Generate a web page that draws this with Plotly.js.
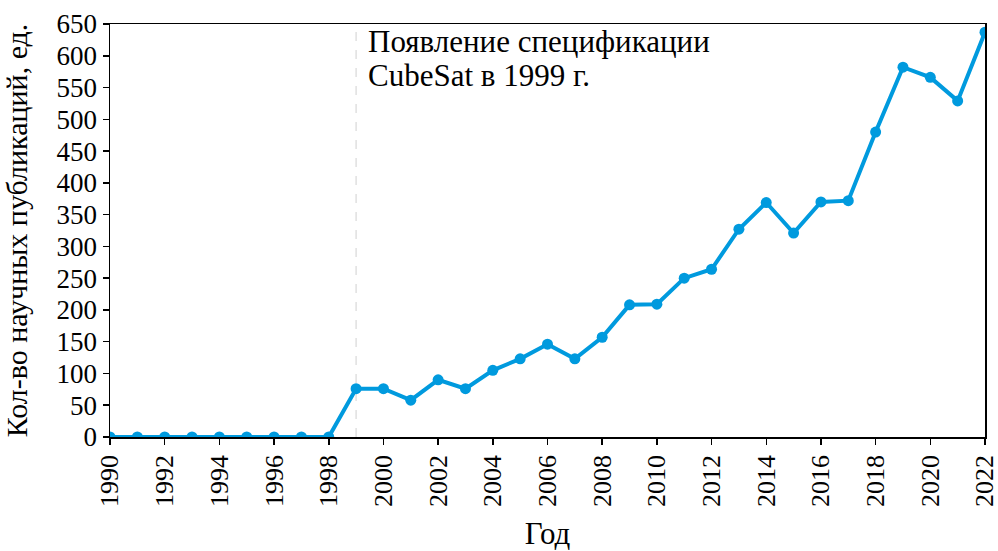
<!DOCTYPE html>
<html>
<head>
<meta charset="utf-8">
<script src="https://cdn.plot.ly/plotly-3.0.1.min.js"></script>
<style>html,body{margin:0;padding:0;background:#fff;}#chart{width:998px;height:551px;}</style>
</head>
<body>
<div id="chart"></div>
<script>
const years = [1990,1991,1992,1993,1994,1995,1996,1997,1998,1999,2000,2001,2002,2003,2004,2005,2006,2007,2008,2009,2010,2011,2012,2013,2014,2015,2016,2017,2018,2019,2020,2021,2022];
const publications = [0,0,0,0,0,0,0,0,0,76,76,58,90,76,105,123,146,123,157,208,209,250,264,327,369,321,370,372,480,582,566,529,637];
const xTicks = [1990,1992,1994,1996,1998,2000,2002,2004,2006,2008,2010,2012,2014,2016,2018,2020,2022];
const yTicks = [0,50,100,150,200,250,300,350,400,450,500,550,600,650];
const markerYear = 1999;
const annotationLines = ['Появление спецификации', 'CubeSat в 1999 г.'];
const xTitle = 'Год';
const yTitle = 'Кол-во научных публикаций, ед.';

const font = 'Liberation Serif, Times New Roman, serif';
const trace = {
  x: years, y: publications, type: 'scatter', mode: 'lines+markers',
  line: {color: '#009ade', width: 4},
  marker: {color: '#009ade', size: 11},
  cliponaxis: true
};
const layout = {
  width: 998, height: 551,
  margin: {l: 110, r: 13, t: 24, b: 114},
  paper_bgcolor: '#fff', plot_bgcolor: '#fff',
  font: {family: font, size: 27, color: '#000'},
  showlegend: false,
  xaxis: {
    range: [1990, 2022], tickvals: xTicks, ticktext: xTicks.map(String),
    tickangle: -90, ticks: 'outside', ticklen: 6, tickwidth: 1.5, tickcolor: '#000',
    showline: true, linecolor: '#000', linewidth: 1.5, mirror: true,
    showgrid: false, zeroline: false, ticklabeloverflow: 'allow',
    title: {text: xTitle, font: {family: font, size: 31}, standoff: 21},
    tickfont: {family: font, size: 26}
  },
  yaxis: {
    range: [0, 650], tickvals: yTicks, ticktext: yTicks.map(String),
    ticks: 'outside', ticklen: 6, tickwidth: 1.5, tickcolor: '#000',
    showline: true, linecolor: '#000', linewidth: 1.5, mirror: true,
    showgrid: false, zeroline: false, ticklabeloverflow: 'allow',
    title: {text: yTitle, font: {family: font, size: 30}, standoff: 20},
    tickfont: {family: font, size: 27}
  },
  shapes: [{
    type: 'line', xref: 'x', yref: 'paper', x0: markerYear, x1: markerYear, y0: 0, y1: 1,
    line: {color: '#d0d0d0', width: 1, dash: 'dash'}, layer: 'below'
  }],
  annotations: annotationLines.map((t, i) => ({
    xref: 'x', yref: 'paper', x: markerYear, y: 1, xanchor: 'left', yanchor: 'top',
    xshift: 10, yshift: 2 - 34 * i, align: 'left', showarrow: false,
    text: t, font: {family: font, size: 31, color: '#000'}
  }))
};
Plotly.newPlot('chart', [trace], layout, {displayModeBar: false, staticPlot: true});
</script>
</body>
</html>
